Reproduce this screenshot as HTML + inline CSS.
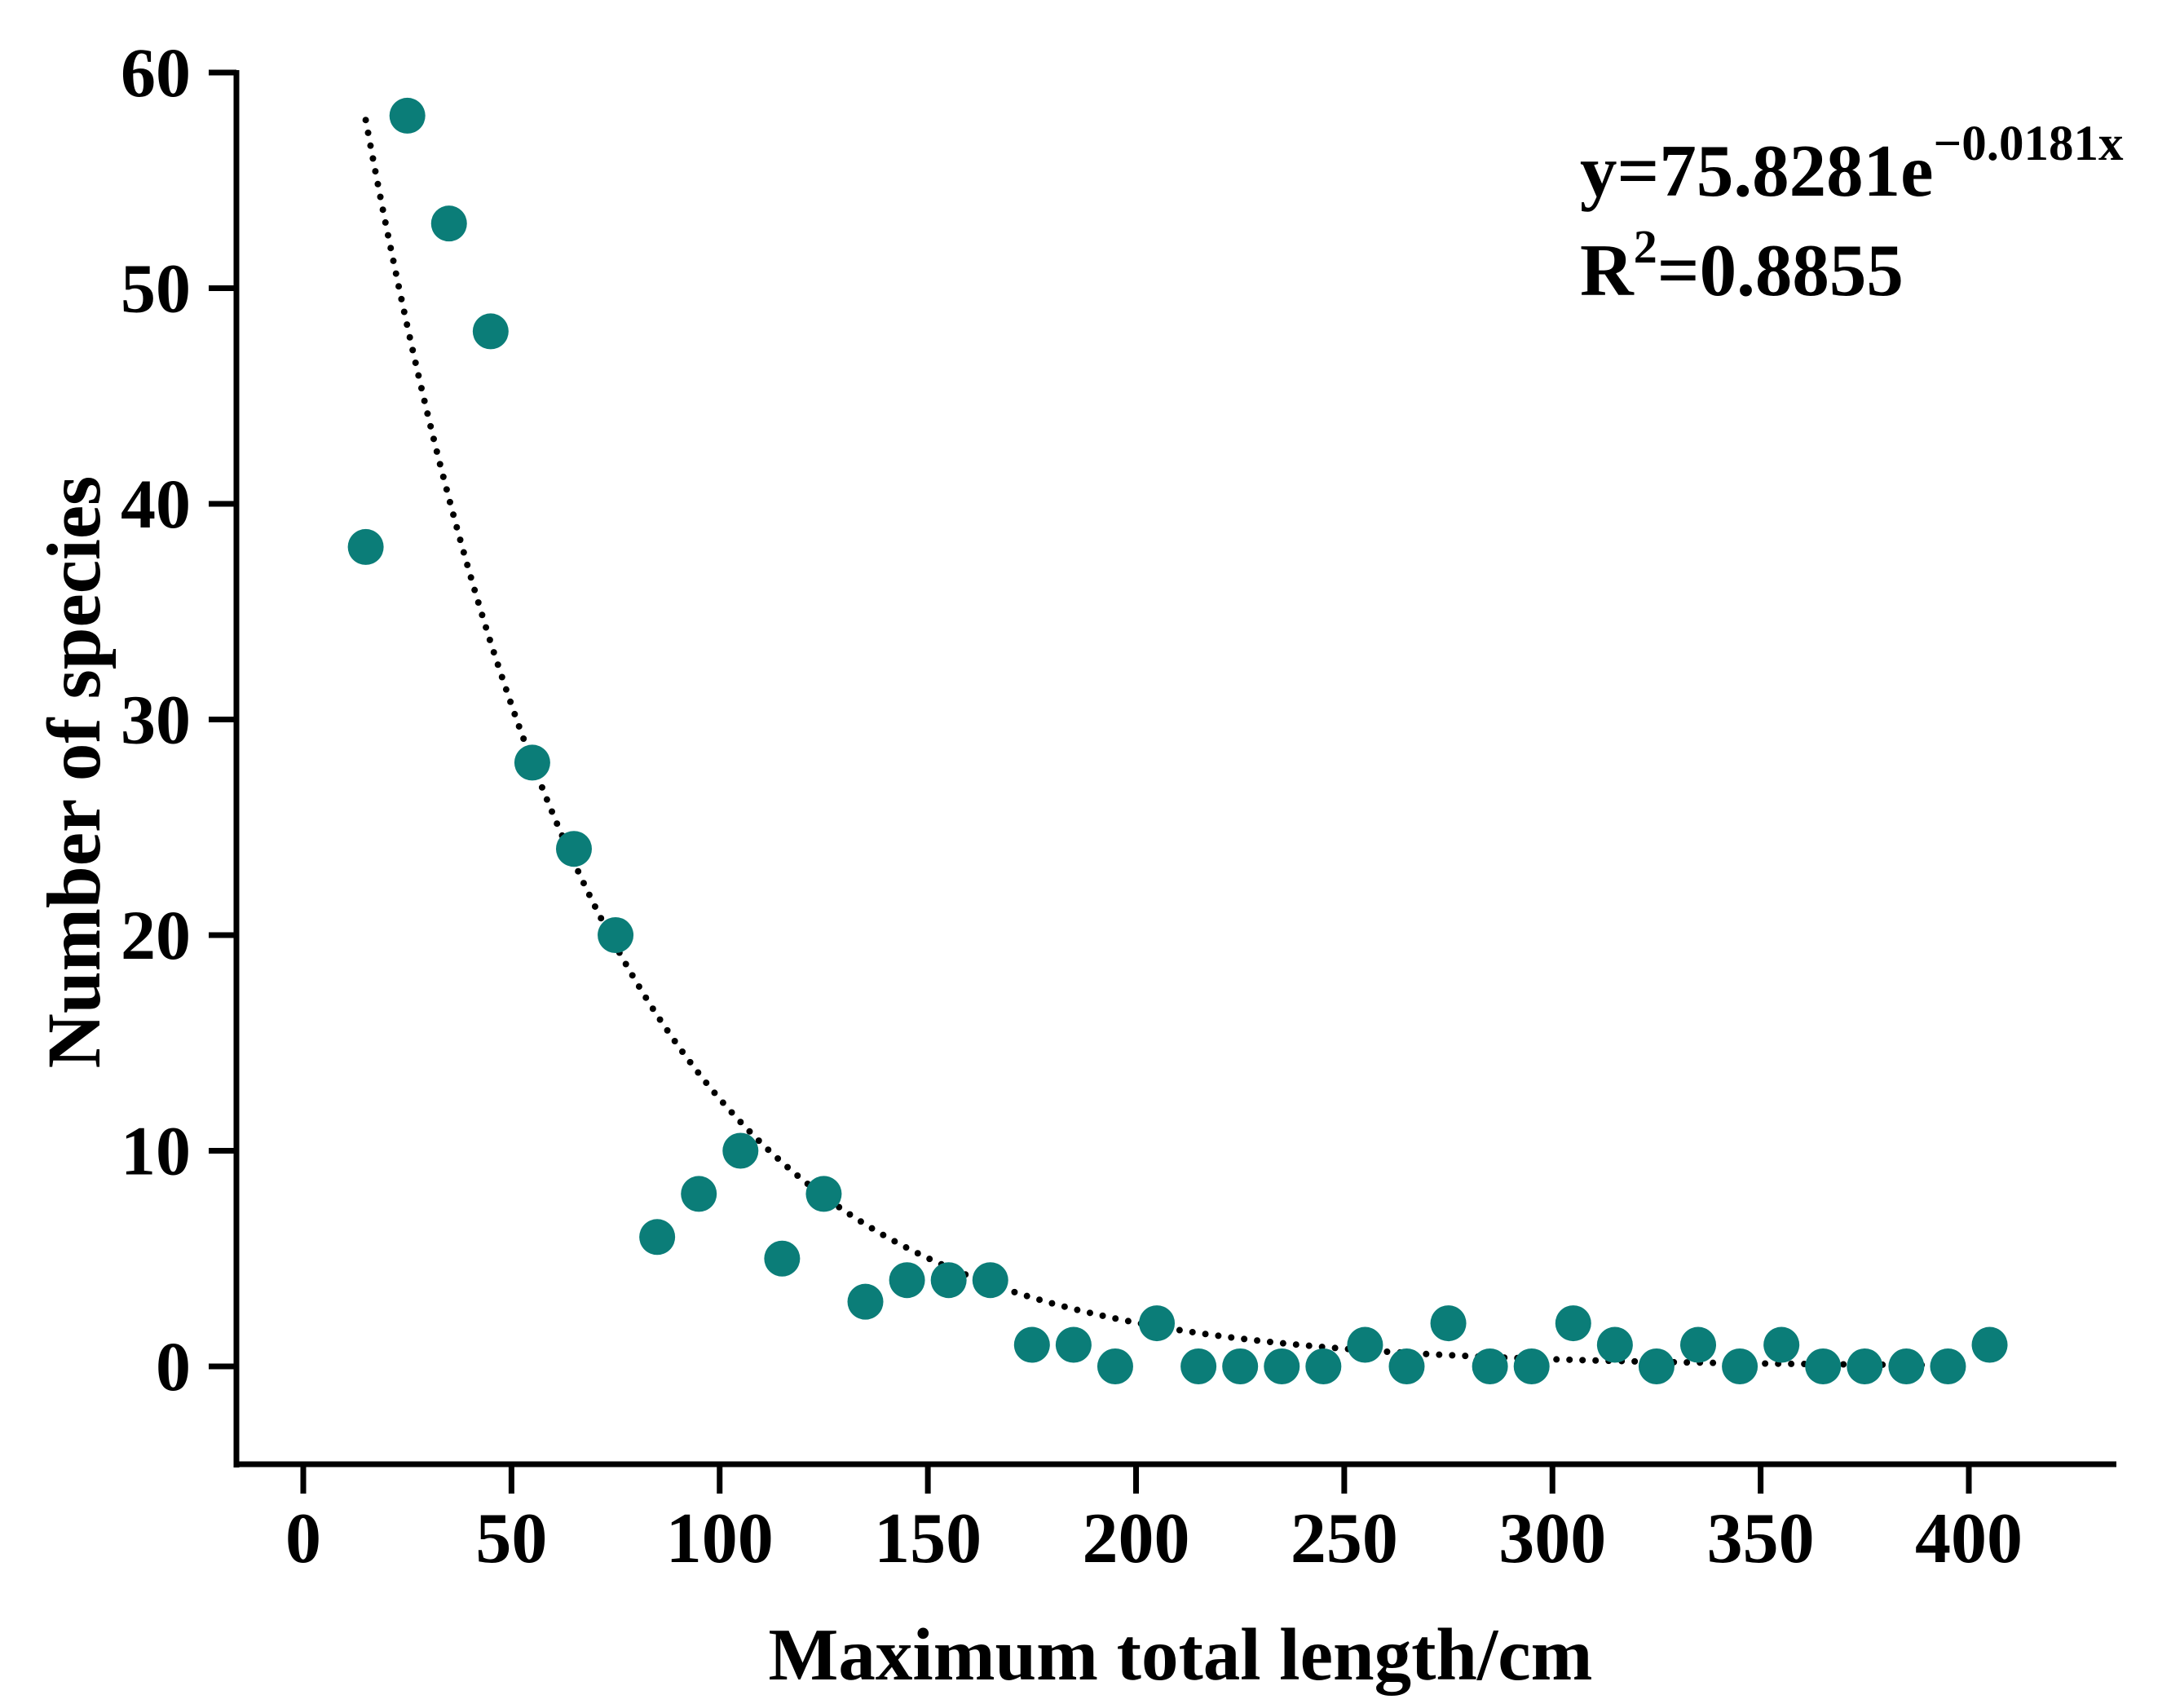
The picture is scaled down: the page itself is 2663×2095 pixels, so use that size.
<!DOCTYPE html>
<html><head><meta charset="utf-8"><style>
html,body{margin:0;padding:0;background:#fff;}
svg text{font-family:"Liberation Serif",serif;font-weight:bold;fill:#000;}
</style></head><body>
<svg id="chart" width="2663" height="2090" viewBox="0 0 2663 2090" xmlns="http://www.w3.org/2000/svg">
<g id="axes"></g>
<g id="fit"></g>
<g id="pts"></g>
<text x="1938" y="240" font-size="91">y=75.8281e<tspan font-size="61" dy="-44">−0.0181x</tspan></text>
<text x="1938" y="362" font-size="91">R<tspan font-size="58" dy="-40">2</tspan><tspan dy="40">=0.8855</tspan></text>
<text x="1448" y="2060" font-size="91" text-anchor="middle">Maximum total length/cm</text>
<text transform="translate(122,947) rotate(-90)" font-size="93" text-anchor="middle">Number of species</text>
</svg>
<script>
const xValues=[15,25,35,45,55,65,75,85,95,105,115,125,135,145,155,165,175,185,195,205,215,225,235,245,255,265,275,285,295,305,315,325,335,345,355,365,375,385,395,405];
const yValues=[38,58,53,48,28,24,20,6,8,10,5,8,3,4,4,4,1,1,0,2,0,0,0,0,1,0,2,0,0,2,1,0,1,0,1,0,0,0,0,1];
const xTicks=[0,50,100,150,200,250,300,350,400];
const yTicks=[0,10,20,30,40,50,60];
const fitA=75.8281, fitB=-0.0181, fitStart=15, fitEnd=395;

const NS="http://www.w3.org/2000/svg";
function sx(v){return 372+(v-0)*(2415-372)/400;}
function sy(v){return 1676-(v-0)*(1676-89)/60;}
function mk(tag,attrs,parent){const e=document.createElementNS(NS,tag);for(const k in attrs)e.setAttribute(k,attrs[k]);parent.appendChild(e);return e;}
const axes=document.getElementById('axes');
let e=mk('line',{x1:290,y1:86,x2:290,y2:1800,stroke:'#000','stroke-width':7},axes);


e=mk('line',{x1:287,y1:1796,x2:2596,y2:1796,stroke:'#000','stroke-width':7},axes);


yTicks.forEach(t=>{
  const y=sy(t);
  let l=mk('line',{x1:256,y1:y,x2:290,y2:y,stroke:'#000','stroke-width':7},axes);
  
  
  let tx=mk('text',{x:234,y:y+29,'font-size':86,'text-anchor':'end'},axes);
  tx.textContent=t;
  
  
});
xTicks.forEach(t=>{
  const x=sx(t);
  let l=mk('line',{x1:x,y1:1796,x2:x,y2:1832,stroke:'#000','stroke-width':7},axes);
  
  
  let tx=mk('text',{x:x,y:1916,'font-size':88,'text-anchor':'middle'},axes);
  tx.textContent=t;
  
  
});
let d='';
for(let x=fitStart;x<=fitEnd;x+=1){d+=(x===fitStart?'M':'L')+sx(x).toFixed(1)+','+sy(fitA*Math.exp(fitB*x)).toFixed(1);}
const p=mk('path',{d:d,fill:'none',stroke:'#000','stroke-width':8,'stroke-dasharray':'0 16','stroke-linecap':'round'},document.getElementById('fit'));


const pts=document.getElementById('pts');
xValues.forEach((xv,i)=>{
  const c=mk('ellipse',{cx:sx(xv),cy:sy(yValues[i]),rx:22,ry:22,fill:'#0b7d78'},pts);
  
  
});
</script>
</body></html>
